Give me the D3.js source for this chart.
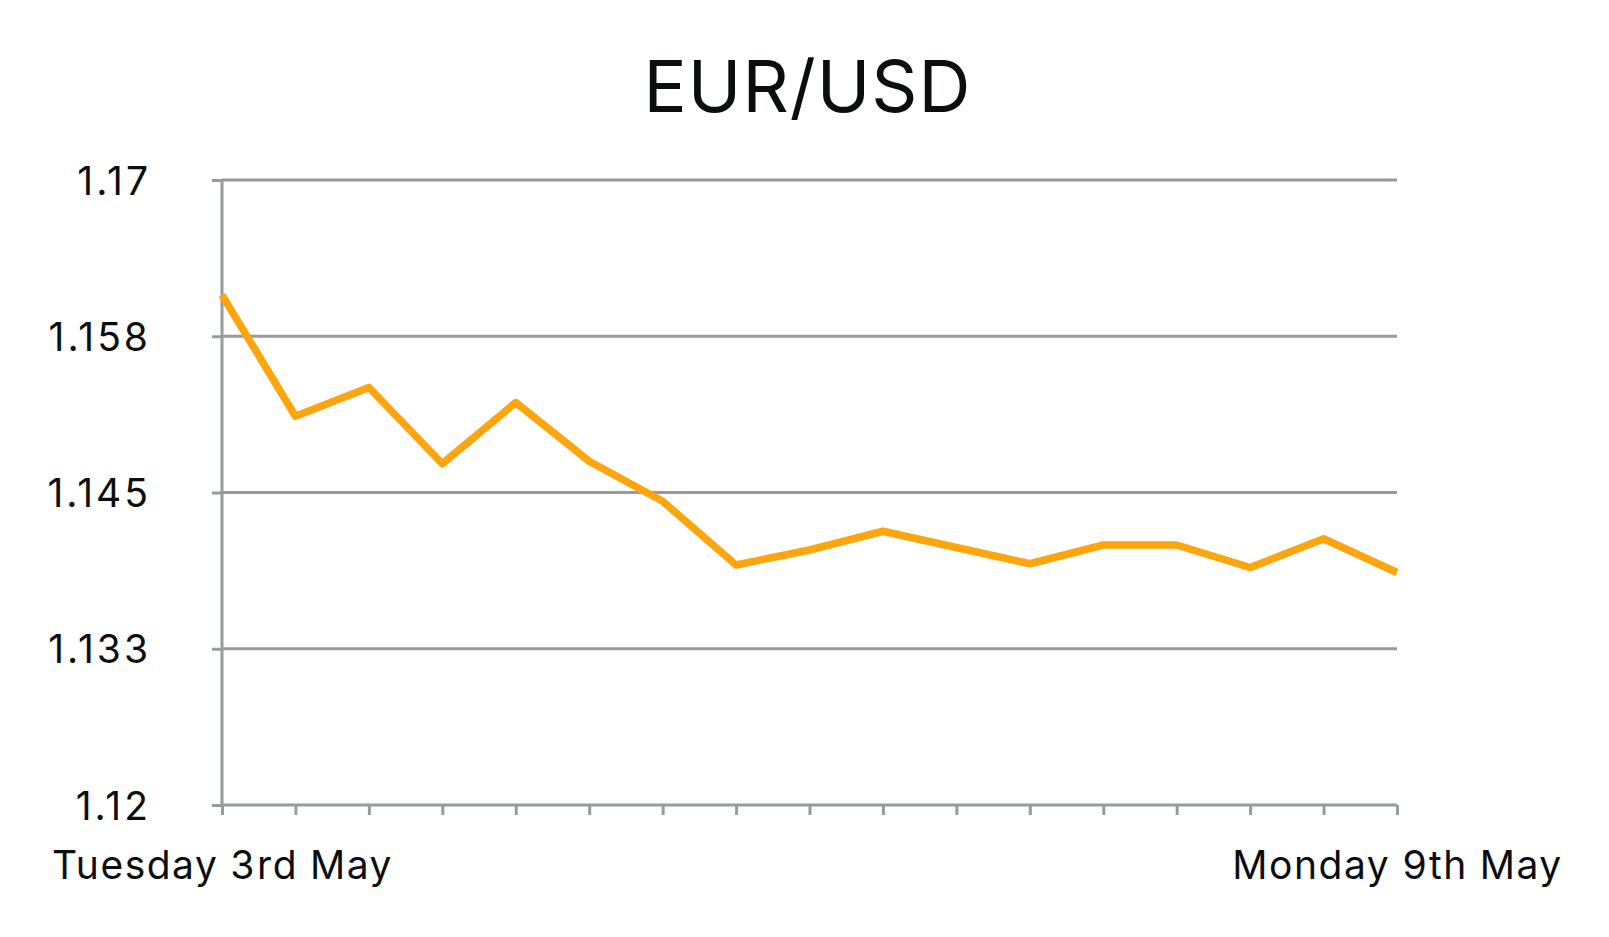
<!DOCTYPE html>
<html>
<head>
<meta charset="utf-8">
<script src="https://cdn.jsdelivr.net/npm/d3@7"></script>
<style>
    body { margin: 0; background: #fff; }
    text { font-family: Inter, "Noto Sans", sans-serif; fill: #0b0e0f; }
</style>
</head>
<body>
<div id="svgContainer"></div>
<script>
// DATA

const title = "EUR/USD";
const points = d3.range(17);
const xLabels = ["Tuesday 3rd May", "", "", "", "", "", "", "", "", "", "", "", "", "", "", "", "Monday 9th May"];
const rates = [1.1608, 1.1511, 1.1534, 1.1473, 1.1522, 1.1475, 1.1443, 1.1392, 1.1404,
               1.1419, 1.1406, 1.1393, 1.1408, 1.1408, 1.1390, 1.1413, 1.1386];
const yTicks = [1.12, 1.1325, 1.145, 1.1575, 1.17];
const yTickLabels = ["1.12", "1.133", "1.145", "1.158", "1.17"];

// CHART

const width = 1609,
      height = 937;
const margin = { top: 180, right: 212, bottom: 132, left: 222 };
const grey = "#969c9d";

const svg = d3.select("#svgContainer").append("svg")
    .attr("width", width)
    .attr("height", height)
    .style("display", "block");

const x = d3.scaleLinear()
    .domain([0, points.length - 1])
    .range([margin.left, width - margin.right]);

const y = d3.scaleLinear()
    .domain([1.12, 1.17])
    .range([height - margin.bottom, margin.top]);

svg.append("text")
    .attr("x", width / 2 + 3)
    .attr("y", 112)
    .attr("text-anchor", "middle")
    .attr("font-size", 72)
    .attr("letter-spacing", 1)
    .text(title);

// gridlines + y axis
const yAxis = svg.append("g")
    .attr("transform", `translate(${margin.left},0)`)
    .call(d3.axisLeft(y)
        .tickValues(yTicks)
        .tickFormat((d, i) => yTickLabels[i])
        .tickSize(10)
        .tickPadding(61));

yAxis.select(".domain").remove();
yAxis.selectAll(".tick line")
    .attr("stroke", grey)
    .attr("stroke-width", 3);
yAxis.selectAll(".tick text")
    .attr("font-size", 39)
    .attr("letter-spacing", 3)
    .attr("dy", "0.36em");

svg.append("g")
    .selectAll("line")
    .data(yTicks)
    .enter().append("line")
    .attr("x1", margin.left)
    .attr("x2", width - margin.right)
    .attr("y1", d => y(d))
    .attr("y2", d => y(d))
    .attr("stroke", grey)
    .attr("stroke-width", 3);

svg.append("line")
    .attr("x1", margin.left)
    .attr("x2", margin.left)
    .attr("y1", y(1.17))
    .attr("y2", y(1.12))
    .attr("stroke", grey)
    .attr("stroke-width", 3);

// x axis
const xAxis = svg.append("g")
    .attr("transform", `translate(0,${height - margin.bottom})`)
    .call(d3.axisBottom(x)
        .tickValues(points)
        .tickFormat((d, i) => xLabels[i])
        .tickSize(10)
        .tickSizeOuter(0)
        .tickPadding(36));

xAxis.select(".domain").remove();
xAxis.selectAll(".tick line")
    .attr("stroke", grey)
    .attr("stroke-width", 3);
xAxis.selectAll(".tick text")
    .attr("font-size", 39)
    .attr("letter-spacing", 1.5)
    .style("font-variant-numeric", "tabular-nums");

// line
const line = d3.line()
    .x((d, i) => x(i))
    .y(d => y(d));

svg.append("path")
    .datum(rates)
    .attr("fill", "none")
    .attr("stroke", "#fca50e")
    .attr("stroke-width", 7.5)
    .attr("stroke-linejoin", "round")
    .attr("d", line);
</script>
</body>
</html>
